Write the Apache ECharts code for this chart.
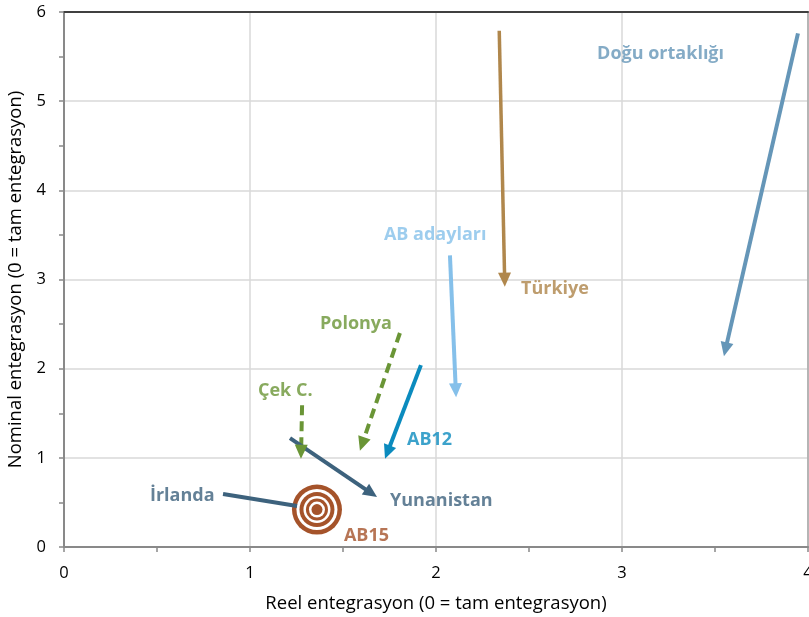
<!DOCTYPE html>
<html>
<head>
<meta charset="utf-8">
<script src="https://cdn.jsdelivr.net/npm/echarts@6/dist/echarts.min.js"></script>
<style>
html,body{margin:0;padding:0;background:#fff;}
#chart{width:809px;height:617px;}
</style>
</head>
<body>
<div id="chart"></div>
<script>
// ---- data ----
const arrowNames = ['Türkiye', 'Doğu ortaklığı', 'AB adayları', 'AB12', 'Polonya', 'Çek C.', 'Yunanistan', 'İrlanda'];
const startX = [2.34, 3.946, 2.075, 1.919, 1.806, 1.28, 1.215, 0.855];
const startY = [5.79, 5.76, 3.27, 2.04, 2.40, 1.59, 1.22, 0.594];
const endX   = [2.37, 3.548, 2.108, 1.726, 1.591, 1.274, 1.683, 1.253];
const endY   = [2.92, 2.14, 1.68, 0.99, 1.08, 0.99, 0.56, 0.46];

const targetName = 'AB15';
const targetX = [1.36];
const targetY = [0.42];

const labelTexts = ['Doğu ortaklığı', 'Türkiye', 'AB adayları', 'Polonya', 'Çek C.', 'AB12', 'Yunanistan', 'İrlanda', 'AB15'];
const labelX = [2.866, 2.457, 1.72, 1.376, 1.043, 1.844, 1.753, 0.462, 1.505];
const labelY = [5.53, 2.89, 3.50, 2.50, 1.75, 1.20, 0.516, 0.572, 0.123];

const xTicks = [0, 1, 2, 3, 4];
const yTicks = [0, 1, 2, 3, 4, 5, 6];

// ---- styles ----
const arrowStyle = {
  'Türkiye':        {color: '#B0874C', width: 3.5, dash: null, arrow: true},
  'Doğu ortaklığı': {color: '#6596B8', width: 4, dash: null, arrow: true},
  'AB adayları':    {color: '#85C0EA', width: 4, dash: null, arrow: true},
  'AB12':           {color: '#0B8BBE', width: 4, dash: null, arrow: true},
  'Polonya':        {color: '#6A9536', width: 4, dash: [10, 6], arrow: true},
  'Çek C.':         {color: '#6A9536', width: 4, dash: [10, 6], arrow: true},
  'Yunanistan':     {color: '#3D627D', width: 4, dash: null, arrow: true},
  'İrlanda':        {color: '#3D627D', width: 4, dash: null, arrow: false}
};
const labelColors = {
  'Doğu ortaklığı': '#6596B8', 'Türkiye': '#AE844A', 'AB adayları': '#85C0EA',
  'Polonya': '#6A9536', 'Çek C.': '#6A9536', 'AB12': '#0B8BBE',
  'Yunanistan': '#3D627D', 'İrlanda': '#3D627D', 'AB15': '#A5532A'
};
const FONT = 'Open Sans';
const HEAD_LEN = 14, HEAD_HALF = 6.5;

const series = [];

// target (AB15)
series.push({
  type: 'custom',
  name: targetName,
  z: 2,
  data: targetX.map((x, i) => [x, targetY[i]]),
  renderItem: function (params, api) {
    const p = api.coord([api.value(0), api.value(1)]);
    const radii = [25, 20.5, 17.5, 13.5, 11, 8, 5.5];
    const children = radii.map((r, k) => ({
      type: 'circle',
      shape: {cx: p[0], cy: p[1], r: r},
      style: {fill: k % 2 === 0 ? '#A5532A' : '#ffffff'}
    }));
    return {type: 'group', children: children};
  }
});

// arrows
arrowNames.forEach((name, i) => {
  const st = arrowStyle[name];
  series.push({
    type: 'custom',
    name: name,
    z: 3,
    silent: true,
    data: [[startX[i], startY[i], endX[i], endY[i]]],
    encode: {x: [0, 2], y: [1, 3]},
    renderItem: function (params, api) {
      const a = api.coord([api.value(0), api.value(1)]);
      const b = api.coord([api.value(2), api.value(3)]);
      const dx = b[0] - a[0], dy = b[1] - a[1];
      const len = Math.sqrt(dx * dx + dy * dy);
      const ux = dx / len, uy = dy / len;
      const children = [];
      let lineEnd = b;
      if (st.arrow) {
        lineEnd = [b[0] - ux * HEAD_LEN * 0.7, b[1] - uy * HEAD_LEN * 0.7];
        const base = [b[0] - ux * HEAD_LEN, b[1] - uy * HEAD_LEN];
        children.push({
          type: 'polygon',
          z2: 2,
          shape: {points: [b, [base[0] - uy * HEAD_HALF, base[1] + ux * HEAD_HALF], [base[0] + uy * HEAD_HALF, base[1] - ux * HEAD_HALF]]},
          style: {fill: st.color}
        });
      }
      children.unshift({
        type: 'line',
        z2: 1,
        shape: {x1: a[0], y1: a[1], x2: lineEnd[0], y2: lineEnd[1]},
        style: {stroke: st.color, lineWidth: st.width, lineDash: st.dash, lineCap: 'butt', fill: null}
      });
      return {type: 'group', children: children};
    }
  });
});

// labels
series.push({
  type: 'scatter',
  z: 4,
  symbolSize: 0,
  silent: true,
  data: labelTexts.map((t, i) => ({
    value: [labelX[i], labelY[i]],
    name: t,
    label: {
      show: true, position: 'right', distance: 0,
      formatter: t,
      color: labelColors[t], fontFamily: FONT, fontWeight: 'bold', fontSize: 18
    }
  }))
});

const chart = echarts.init(document.getElementById('chart'), null, {renderer: 'canvas'});
chart.setOption({
  animation: false,
  backgroundColor: '#ffffff',
  grid: {left: 64, top: 12, right: 1, bottom: 70, containLabel: false, outerBoundsMode: 'none'},
  xAxis: [{
    type: 'value', min: xTicks[0], max: xTicks[xTicks.length - 1], interval: 1,
    name: 'Reel entegrasyon (0 = tam entegrasyon)',
    nameLocation: 'middle', nameGap: 47,
    nameTextStyle: {fontFamily: FONT, fontSize: 18.5, color: '#000'},
    axisLine: {show: true, onZero: false, lineStyle: {color: '#898989', width: 2}},
    axisTick: {show: true, length: 5, lineStyle: {color: '#898989', width: 1.5}},
    minorTick: {show: true, splitNumber: 2, length: 5, lineStyle: {color: '#898989', width: 1.5}},
    axisLabel: {fontFamily: FONT, fontSize: 16.5, color: '#000', margin: 18},
    splitLine: {show: true, lineStyle: {color: '#D9D9D9', width: 1.5}}
  }, {
    type: 'value', position: 'top', min: 0, max: 4, interval: 1,
    axisLine: {show: true, onZero: false, lineStyle: {color: '#404040', width: 2}},
    axisTick: {show: false}, axisLabel: {show: false}, splitLine: {show: false}
  }],
  yAxis: [{
    type: 'value', min: yTicks[0], max: yTicks[yTicks.length - 1], interval: 1,
    name: 'Nominal entegrasyon (0 = tam entegrasyon)',
    nameLocation: 'middle', nameGap: 38, nameRotate: 90,
    nameTextStyle: {fontFamily: FONT, fontSize: 18.5, color: '#000'},
    axisLine: {show: true, onZero: false, lineStyle: {color: '#898989', width: 2}},
    axisTick: {show: true, length: 5, lineStyle: {color: '#898989', width: 1.5}},
    minorTick: {show: true, splitNumber: 2, length: 5, lineStyle: {color: '#898989', width: 1.5}},
    axisLabel: {fontFamily: FONT, fontSize: 16.5, color: '#000', margin: 18},
    splitLine: {show: true, lineStyle: {color: '#D9D9D9', width: 1.5}}
  }, {
    type: 'value', position: 'right', min: 0, max: 6, interval: 1,
    axisLine: {show: true, onZero: false, lineStyle: {color: '#A6A6A6', width: 1.5}},
    axisTick: {show: false}, axisLabel: {show: false}, splitLine: {show: false}
  }],
  series: series
});
</script>
</body>
</html>
